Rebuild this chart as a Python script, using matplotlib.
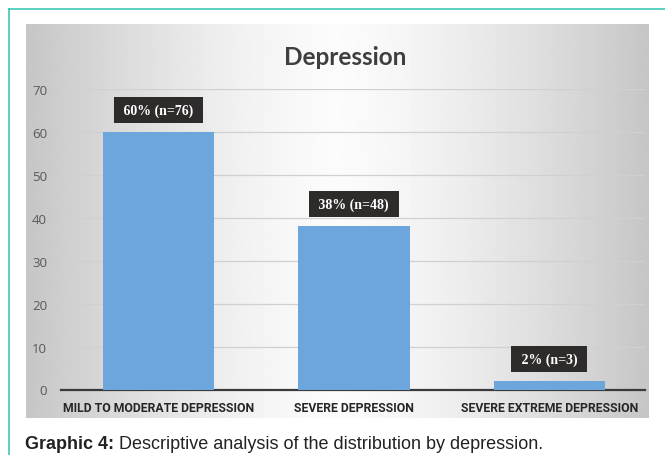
import matplotlib
matplotlib.use("Agg")
import matplotlib.pyplot as plt
import numpy as np

categories = ["MILD TO MODERATE DEPRESSION", "SEVERE DEPRESSION", "SEVERE EXTREME DEPRESSION"]
values = [60, 38, 2]
labels = ["60% (n=76)", "38% (n=48)", "2% (n=3)"]
yticks = [0, 10, 20, 30, 40, 50, 60, 70]

W, H = 665, 456
fig = plt.figure(figsize=(W/100, H/100), dpi=100)

def fx(px): return px / W
def fy(py): return 1 - py / H

# teal border (top and left)
fig.add_artist(plt.Line2D([fx(8.5), 1.0], [fy(10), fy(10)], color="#40c8b6", lw=1.2))
fig.add_artist(plt.Line2D([fx(8.5), fx(8.5)], [fy(10), 0.0], color="#40c8b6", lw=1.2))

# gradient panel
bg = fig.add_axes([fx(26), fy(419), fx(649) - fx(26), fy(25) - fy(419)])
xs = np.linspace(-1, 1, 400)
grad = 0.985 - 0.21 * np.abs(xs) ** 1.4
img = np.tile(grad, (10, 1))
bg.imshow(img, cmap="gray", vmin=0, vmax=1, aspect="auto", extent=[0, 1, 0, 1])
bg.set_axis_off()

ax = fig.add_axes([fx(61), fy(390.5), fx(645) - fx(61), fy(90) - fy(390.5)])
ax.set_facecolor("none")
x = np.arange(len(categories))
ax.bar(x, values, width=0.57, color="#6ca6dc", zorder=3)
ax.set_xlim(-0.5, 2.49)
ax.set_ylim(0, 70)
ax.set_yticks(yticks)
ax.yaxis.grid(True, color="#d0d0d0", lw=0.9, zorder=0)
ax.set_axisbelow(True)
for s in ["top", "right", "left"]:
    ax.spines[s].set_visible(False)
ax.spines["bottom"].set_color("#3a3a3a")
ax.spines["bottom"].set_linewidth(1.6)
ax.tick_params(axis="y", length=0, pad=10, labelsize=9.5, labelcolor="#595959")
ax.tick_params(axis="x", length=0, pad=8)
ax.set_xticks(x)
ax.set_xticklabels(categories, fontsize=8.8, fontweight="bold", color="#262626", family="Roboto")
for t in ax.get_yticklabels():
    t.set_family("Open Sans")

for xi, v, lab in zip(x, values, labels):
    ax.annotate(" " + lab + " ", (xi, v), xytext=(0, 22), textcoords="offset pixels",
                ha="center", va="center", color="white", fontsize=10, fontweight="bold",
                family="Liberation Serif", zorder=5,
                bbox=dict(boxstyle="square,pad=0.45", fc="#2e2c2b", ec="none"))

fig.text(fx(345), fy(65), "Depression", ha="center", va="baseline", fontsize=17.5,
         fontweight="bold", color="#3f3f3f", family="Lato")

t1 = fig.text(fx(25), fy(449), "Graphic 4:", ha="left", va="baseline", fontsize=13,
              fontweight="bold", color="#222222", family="Liberation Sans")
fig.canvas.draw()
bb = t1.get_window_extent()
fig.text((bb.x1 + 5) / W, fy(449), "Descriptive analysis of the distribution by depression.", ha="left",
         va="baseline", fontsize=13, color="#222222", family="Liberation Sans")

fig.savefig("out.png", dpi=100)
